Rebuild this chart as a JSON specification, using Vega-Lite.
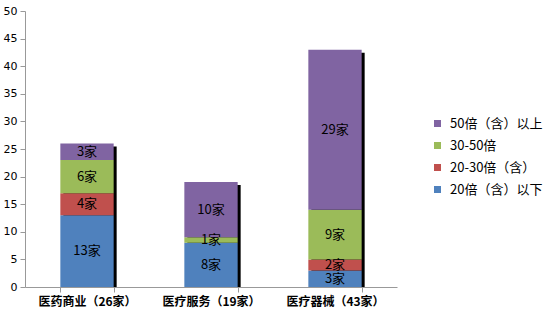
{
  "$schema": "https://vega.github.io/schema/vega-lite/v6.json",
  "width": 372,
  "height": 276,
  "autosize": {"type": "none"},
  "padding": {"left": 25, "top": 11, "right": 148, "bottom": 30},
  "background": "white",
  "config": {
    "view": {"stroke": null},
    "font": "Noto Sans CJK SC"
  },
  "data": {
    "values": [
      {"cat": "医药商业（26家）", "series": "20倍（含）以下", "order": 1, "value": 13},
      {"cat": "医药商业（26家）", "series": "20-30倍（含）", "order": 2, "value": 4},
      {"cat": "医药商业（26家）", "series": "30-50倍", "order": 3, "value": 6},
      {"cat": "医药商业（26家）", "series": "50倍（含）以上", "order": 4, "value": 3},
      {"cat": "医疗服务（19家）", "series": "20倍（含）以下", "order": 1, "value": 8},
      {"cat": "医疗服务（19家）", "series": "20-30倍（含）", "order": 2, "value": 0},
      {"cat": "医疗服务（19家）", "series": "30-50倍", "order": 3, "value": 1},
      {"cat": "医疗服务（19家）", "series": "50倍（含）以上", "order": 4, "value": 10},
      {"cat": "医疗器械（43家）", "series": "20倍（含）以下", "order": 1, "value": 3},
      {"cat": "医疗器械（43家）", "series": "20-30倍（含）", "order": 2, "value": 2},
      {"cat": "医疗器械（43家）", "series": "30-50倍", "order": 3, "value": 9},
      {"cat": "医疗器械（43家）", "series": "50倍（含）以上", "order": 4, "value": 29}
    ]
  },
  "transform": [
    {"stack": "value", "groupby": ["cat"], "sort": [{"field": "order"}], "as": ["v0", "v1"]},
    {"joinaggregate": [{"op": "sum", "field": "value", "as": "total"}], "groupby": ["cat"]},
    {"calculate": "(datum.v0 + datum.v1) / 2", "as": "mid"},
    {"calculate": "datum.value + '家'", "as": "label"}
  ],
  "encoding": {
    "x": {
      "field": "cat",
      "type": "nominal",
      "sort": null,
      "title": null,
      "scale": {"paddingInner": 0.57, "paddingOuter": 0.285},
      "axis": {
        "labelAngle": 0,
        "labelFontWeight": "bold",
        "labelFontSize": 12,
        "labelColor": "#000",
        "domainColor": "#999",
        "tickColor": "#999",
        "tickBand": "extent",
        "tickSize": 5,
        "labelPadding": 4
      }
    },
    "y": {
      "field": "v1",
      "type": "quantitative",
      "title": null,
      "scale": {"domain": [0, 50], "nice": false},
      "axis": {
        "values": [0, 5, 10, 15, 20, 25, 30, 35, 40, 45, 50],
        "labelOverlap": false,
        "labelSeparation": 0,
        "labelFont": "DejaVu Sans",
        "grid": false,
        "labelFontSize": 11,
        "labelColor": "#000",
        "domainColor": "#999",
        "tickColor": "#999",
        "tickSize": 5,
        "labelPadding": 3
      }
    }
  },
  "layer": [
    {
      "transform": [{"filter": "datum.order == 1"}],
      "mark": {"type": "bar", "color": "#000", "xOffset": 3, "yOffset": 3, "y2Offset": 0},
      "encoding": {
        "y": {"field": "total", "type": "quantitative"},
        "y2": {"datum": 0}
      }
    },
    {
      "mark": {"type": "bar"},
      "encoding": {
        "y2": {"field": "v0"},
        "color": {
          "field": "series",
          "type": "nominal",
          "scale": {
            "domain": ["20倍（含）以下", "20-30倍（含）", "30-50倍", "50倍（含）以上"],
            "range": ["#4F81BD", "#C0504D", "#9BBB59", "#8064A2"]
          },
          "legend": {
            "title": null,
            "orient": "none",
            "legendX": 406,
            "legendY": 106,
            "values": ["50倍（含）以上", "30-50倍", "20-30倍（含）", "20倍（含）以下"],
            "symbolType": "square",
            "symbolSize": 49,
            "symbolStrokeWidth": 0,
            "labelFontSize": 13,
            "labelColor": "#000",
            "rowPadding": 8,
            "labelOffset": 6
          }
        }
      }
    },
    {
      "transform": [{"filter": "datum.value > 0"}],
      "mark": {"type": "text", "fontSize": 13, "color": "#000", "baseline": "middle"},
      "encoding": {
        "y": {"field": "mid", "type": "quantitative"},
        "text": {"field": "label"}
      }
    }
  ]
}
